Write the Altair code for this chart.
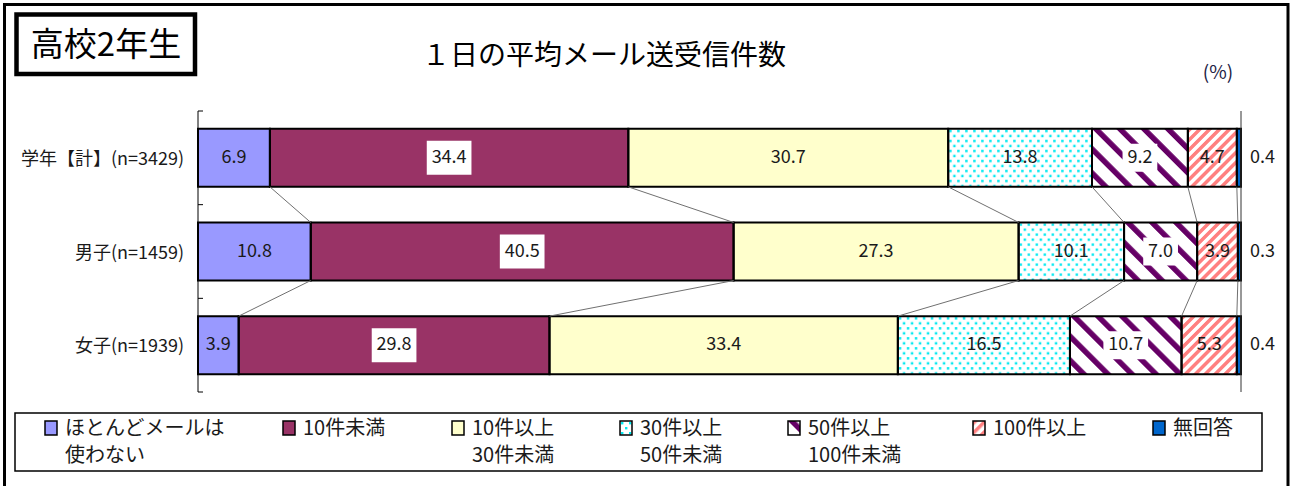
import urllib.parse

import altair as alt
import pandas as pd

# ---- data -----------------------------------------------------------------
categories = ["学年【計】(n=3429)", "男子(n=1459)", "女子(n=1939)"]
series = [
    "ほとんどメールは使わない",
    "10件未満",
    "10件以上30件未満",
    "30件以上50件未満",
    "50件以上100件未満",
    "100件以上",
    "無回答",
]
share_total = [6.9, 34.4, 30.7, 13.8, 9.2, 4.7, 0.4]
share_boys = [10.8, 40.5, 27.3, 10.1, 7.0, 3.9, 0.3]
share_girls = [3.9, 29.8, 33.4, 16.5, 10.7, 5.3, 0.4]

legend_line1 = ["ほとんどメールは", "10件未満", "10件以上", "30件以上", "50件以上", "100件以上", "無回答"]
legend_line2 = ["使わない", "", "30件未満", "50件未満", "100件未満", "", ""]

chart_title = "１日の平均メール送受信件数"
panel_title = "高校2年生"
unit_note = "(%)"

# ---- layout & style ----------------------------------------------------------
FONT = "Noto Sans CJK JP"
INK = "#1a1a1a"
OX, OY = 198, 111          # plot origin on the page
W, H = 1043, 281           # plot area
HALF = 0.31                # half bar thickness in band units


def px(x):
    return x - OX


def py(y):
    return y - OY


def svg_fill(tile_w, tile_h, body, rotate=0):
    tr = f" patternTransform='rotate({rotate})'" if rotate else ""
    svg = (
        "<svg xmlns='http://www.w3.org/2000/svg' width='100%' height='100%'>"
        f"<defs><pattern id='p' patternUnits='userSpaceOnUse' width='{tile_w}' height='{tile_h}'{tr}>"
        f"{body}</pattern></defs>"
        "<rect width='100%' height='100%' fill='#ffffff'/>"
        "<rect width='100%' height='100%' fill='url(#p)'/></svg>"
    )
    return "data:image/svg+xml;charset=utf-8," + urllib.parse.quote(svg)


DOTS = svg_fill(
    8, 10,
    "<rect x='1' y='1' width='2.4' height='2.4' fill='#00e8f0'/>"
    "<rect x='5' y='6' width='2.4' height='2.4' fill='#00e8f0'/>",
)
PURPLE = svg_fill(17, 17, "<rect width='5.5' height='17' fill='#660066'/>", rotate=-45)
SALMON = svg_fill(7, 7, "<rect width='3.5' height='7' fill='#ff8080'/>", rotate=45)

fills = ["#9999ff", "#993366", "#ffffcc", "#ffffff", "#ffffff", "#ffffff", "#0066cc"]
textures = ["", "", "", DOTS, PURPLE, SALMON, ""]
box_heights = [0, 34, 0, 0, 28, 0, 0]   # white plate behind some value labels

legend_x = [45, 283, 452, 620, 788, 973, 1153]

# ---- tables ----------------------------------------------------------------
rows = []
for i, (cat, vals) in enumerate(zip(categories, [share_total, share_boys, share_girls])):
    total = sum(vals)
    cum = 0.0
    for j, v in enumerate(vals):
        start = cum / total * 100
        cum += v
        end = cum / total * 100
        label = f"{v:.1f}"
        digits = sum(ch.isdigit() for ch in label)
        bw = 18 * (0.553 * digits + 0.27) + 10
        bh = box_heights[j]
        path = f"M{-bw/50:.3f},{-bh/50:.3f}H{bw/50:.3f}V{bh/50:.3f}H{-bw/50:.3f}Z"
        rows.append(dict(
            cat=cat, idx=i, series=series[j], value=v, label=label,
            start=start, end=end, mid=(start + end) / 2,
            top=i - HALF, bottom=i + HALF,
            fill=fills[j], texture=textures[j], boxed=bh > 0, plate=path,
            last=(j == len(vals) - 1),
        ))
seg = pd.DataFrame(rows)

links = []
for i in range(len(categories) - 1):
    a = seg[seg.idx == i].reset_index(drop=True)
    b = seg[seg.idx == i + 1].reset_index(drop=True)
    for j in range(len(series) - 1):
        links.append(dict(x=a.end[j], x2=b.end[j], y=i + HALF, y2=i + 1 - HALF))
links = pd.DataFrame(links)

cats = pd.DataFrame({"cat": categories, "idx": list(range(len(categories)))})
bounds = pd.DataFrame({"b": [k - 0.5 for k in range(len(categories) + 1)]})
axes_lines = pd.DataFrame({"x": [0, 100], "y": [-0.5, -0.5], "y2": [len(categories) - 0.5] * 2,
                           "c": ["#000000", "#333333"]})

leg = pd.DataFrame(dict(
    l1=legend_line1, l2=legend_line2, fill=fills, texture=textures,
    sx=[px(x) for x in legend_x], sx2=[px(x + 12) for x in legend_x],
    tx=[px(x + 20) for x in legend_x],
    sy=[py(421)] * 7, sy2=[py(435)] * 7,
    ty1=[py(429)] * 7, ty2=[py(456)] * 7,
))

one = pd.DataFrame({"t": [""]})

# ---- scales ------------------------------------------------------------------
xs = alt.Scale(domain=[0, 100], nice=False, zero=False)
ys = alt.Scale(domain=[-0.5, len(categories) - 0.5], reverse=True, nice=False, zero=False)

X = lambda f: alt.X(f, scale=xs, axis=None)
Y = lambda f: alt.Y(f, scale=ys, axis=None)

# ---- decorations -----------------------------------------------------------
frame = alt.Chart(one).mark_rect(fill="white", stroke="black", strokeWidth=3).encode(
    x=alt.value(px(4.5)), x2=alt.value(px(1288)), y=alt.value(py(4.5)), y2=alt.value(py(520))
)
panel_box = alt.Chart(one).mark_rect(fill="white", stroke="black", strokeWidth=4.5).encode(
    x=alt.value(px(16.5)), x2=alt.value(px(195)), y=alt.value(py(14.5)), y2=alt.value(py(74))
)
panel_txt = alt.Chart(pd.DataFrame({"t": [panel_title]})).mark_text(
    font=FONT, fontSize=33, color="black", align="center", baseline="middle"
).encode(x=alt.value(px(106)), y=alt.value(py(46)), text="t:N")
title_txt = alt.Chart(pd.DataFrame({"t": [chart_title]})).mark_text(
    font=FONT, fontSize=28, color="black", align="center", baseline="middle"
).encode(x=alt.value(px(604)), y=alt.value(py(57)), text="t:N")
unit_txt = alt.Chart(pd.DataFrame({"t": [unit_note]})).mark_text(
    font=FONT, fontSize=19, color="#222244", align="center", baseline="middle"
).encode(x=alt.value(px(1218)), y=alt.value(py(73)), text="t:N")

# ---- category axis -----------------------------------------------------------
axis_rules = alt.Chart(axes_lines).mark_rule(strokeWidth=1).encode(
    x=X("x:Q"), y=Y("y:Q"), y2="y2:Q", color=alt.Color("c:N", scale=None)
)
ticks = alt.Chart(bounds).mark_rule(color="black", strokeWidth=1).encode(
    x=alt.value(0), x2=alt.value(5), y=Y("b:Q")
)
cat_labels = alt.Chart(cats).mark_text(
    font=FONT, fontSize=18, color=INK, align="right", baseline="middle", dx=-14, dy=2
).encode(x=alt.value(0), y=Y("idx:Q"), text="cat:N")

# ---- bars --------------------------------------------------------------------
seg_fill = alt.Chart(seg).mark_rect().encode(
    x=X("start:Q"), x2="end:Q", y=Y("top:Q"), y2="bottom:Q",
    fill=alt.Fill("fill:N", scale=None),
)
seg_tex = alt.Chart(seg[seg.texture != ""]).mark_image(aspect=False).encode(
    x=X("start:Q"), x2="end:Q", y=Y("top:Q"), y2="bottom:Q", url="texture:N"
)
seg_line = alt.Chart(seg).mark_rect(fillOpacity=0, stroke="black", strokeWidth=2).encode(
    x=X("start:Q"), x2="end:Q", y=Y("top:Q"), y2="bottom:Q"
)
link_rules = alt.Chart(links).mark_rule(color="#707070", strokeWidth=1).encode(
    x=X("x:Q"), x2="x2:Q", y=Y("y:Q"), y2="y2:Q"
)

plates = alt.Chart(seg[seg.boxed]).mark_point(filled=True, fill="white", opacity=1, strokeWidth=0).encode(
    x=X("mid:Q"), y=Y("idx:Q"), shape=alt.Shape("plate:N", scale=None), size=alt.value(2500)
)
inside = alt.Chart(seg[~seg["last"]]).mark_text(
    font=FONT, fontSize=18, color=INK, align="center", baseline="middle"
).encode(x=X("mid:Q"), y=Y("idx:Q"), text="label:N")
outside = alt.Chart(seg[seg["last"]]).mark_text(
    font=FONT, fontSize=18, color=INK, align="left", baseline="middle", dx=9
).encode(x=X("end:Q"), y=Y("idx:Q"), text="label:N")

# ---- legend ------------------------------------------------------------------
LX = lambda f: alt.X(f, scale=None)
LY = lambda f: alt.Y(f, scale=None)
leg_box = alt.Chart(one).mark_rect(fill="white", stroke="black", strokeWidth=1.5).encode(
    x=alt.value(px(15)), x2=alt.value(px(1262)), y=alt.value(py(413)), y2=alt.value(py(471))
)
leg_fill = alt.Chart(leg).mark_rect().encode(
    x=LX("sx:Q"), x2="sx2:Q", y=LY("sy:Q"), y2="sy2:Q", fill=alt.Fill("fill:N", scale=None)
)
leg_tex = alt.Chart(leg[leg.texture != ""]).mark_image(aspect=False).encode(
    x=LX("sx:Q"), x2="sx2:Q", y=LY("sy:Q"), y2="sy2:Q", url="texture:N"
)
leg_line = alt.Chart(leg).mark_rect(fillOpacity=0, stroke="black", strokeWidth=1.5).encode(
    x=LX("sx:Q"), x2="sx2:Q", y=LY("sy:Q"), y2="sy2:Q"
)
leg_t1 = alt.Chart(leg).mark_text(
    font=FONT, fontSize=20, color=INK, align="left", baseline="middle"
).encode(x=LX("tx:Q"), y=LY("ty1:Q"), text="l1:N")
leg_t2 = alt.Chart(leg[leg.l2 != ""]).mark_text(
    font=FONT, fontSize=20, color=INK, align="left", baseline="middle"
).encode(x=LX("tx:Q"), y=LY("ty2:Q"), text="l2:N")

chart = alt.layer(
    frame, panel_box, panel_txt, title_txt, unit_txt,
    seg_fill, seg_tex, seg_line, link_rules, axis_rules, ticks, cat_labels,
    plates, inside, outside,
    leg_box, leg_fill, leg_tex, leg_line, leg_t1, leg_t2,
).properties(
    width=W, height=H,
    autosize=alt.AutoSizeParams(type="none"),
    padding={"left": OX, "top": OY, "right": 1293 - OX - W, "bottom": 486 - OY - H},
    background="white",
).configure_view(stroke="transparent")

chart.save("out.html", embed_options={"renderer": "svg", "actions": False})
